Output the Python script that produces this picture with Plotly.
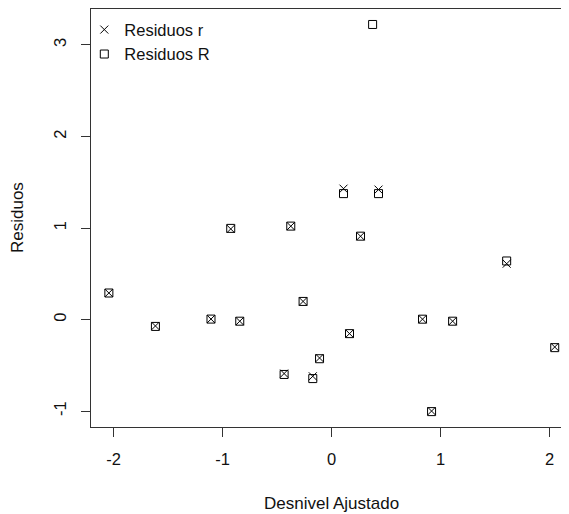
import plotly.graph_objects as go

# Data
ajustado = [-2.043, -1.616, -1.106, -0.842, -0.925, -0.374, -0.435, -0.261, -0.172, -0.110,
            0.110, 0.165, 0.266, 0.377, 0.431, 0.835, 0.918, 1.111, 1.607, 2.048]
residuos_r = [0.29, -0.07, 0.005, -0.018, 0.99, 1.02, -0.59, 0.198, -0.62, -0.42,
              1.43, -0.154, 0.91, None, 1.42, 0.004, -1.0, -0.018, 0.61, -0.30]
residuos_R = [0.29, -0.075, 0.005, -0.018, 0.996, 1.021, -0.600, 0.198, -0.645, -0.428,
              1.376, -0.154, 0.911, 3.224, 1.376, 0.004, -1.006, -0.018, 0.64, -0.307]
x_ticks = [-2, -1, 0, 1, 2]
y_ticks = [-1, 0, 1, 2, 3]

FONT = "Liberation Sans, Arial, sans-serif"
FS = 16.5

fig = go.Figure()
fig.add_trace(go.Scatter(
    x=ajustado, y=residuos_r, mode="markers", name="Residuos r",
    marker=dict(symbol="x-thin-open", size=8, color="black",
                line=dict(color="black", width=1)),
))
fig.add_trace(go.Scatter(
    x=ajustado, y=residuos_R, mode="markers", name="Residuos R",
    marker=dict(symbol="square-open", size=8, color="black",
                line=dict(color="black", width=1)),
))

# the page body adds an 8px offset; compensate so the plot lands where the reference has it
OFF = 8
W, H = 569 - OFF, 514 - OFF
L, T, B = 91 - OFF, 9 - OFF, 87

fig.update_layout(
    width=W, height=H,
    margin=dict(l=L, r=0, t=T, b=B, pad=0),
    paper_bgcolor="white", plot_bgcolor="white",
    font=dict(family=FONT, size=FS, color="black"),
    showlegend=True,
    legend=dict(x=-0.014, y=0.992, xanchor="left", yanchor="top",
                bgcolor="rgba(0,0,0,0)", borderwidth=0,
                font=dict(family=FONT, size=FS, color="#111"),
                itemsizing="trace", tracegroupgap=0),
    xaxis=dict(range=[-2.207, 2.179], tickvals=x_ticks, ticktext=[str(v) for v in x_ticks],
               showgrid=False, zeroline=False, showline=True, linecolor="#333",
               linewidth=1, mirror=True, ticks="outside", ticklen=9, tickcolor="#333",
               tickwidth=1, tickfont=dict(size=FS, color="#111"), ticklabelstandoff=8),
    yaxis=dict(range=[-1.174, 3.393], tickvals=y_ticks, ticktext=[str(v) for v in y_ticks],
               showgrid=False, zeroline=False, showline=True, linecolor="#333",
               linewidth=1, ticks="outside", ticklen=9, tickcolor="#333", tickwidth=1,
               tickangle=-90, tickfont=dict(size=FS, color="#111"), ticklabelstandoff=8),
    annotations=[
        dict(text="Desnivel Ajustado", xref="paper", yref="paper", x=0.504, y=0,
             xanchor="center", yanchor="middle", yshift=-76, showarrow=False,
             font=dict(family=FONT, size=17, color="#111")),
        dict(text="Residuos", xref="paper", yref="paper", x=0, y=0.5,
             xanchor="center", yanchor="middle", xshift=-(L - (17 - OFF)), textangle=-90,
             showarrow=False, font=dict(family=FONT, size=17, color="#111")),
    ],
)

fig.write_html("out.html")
